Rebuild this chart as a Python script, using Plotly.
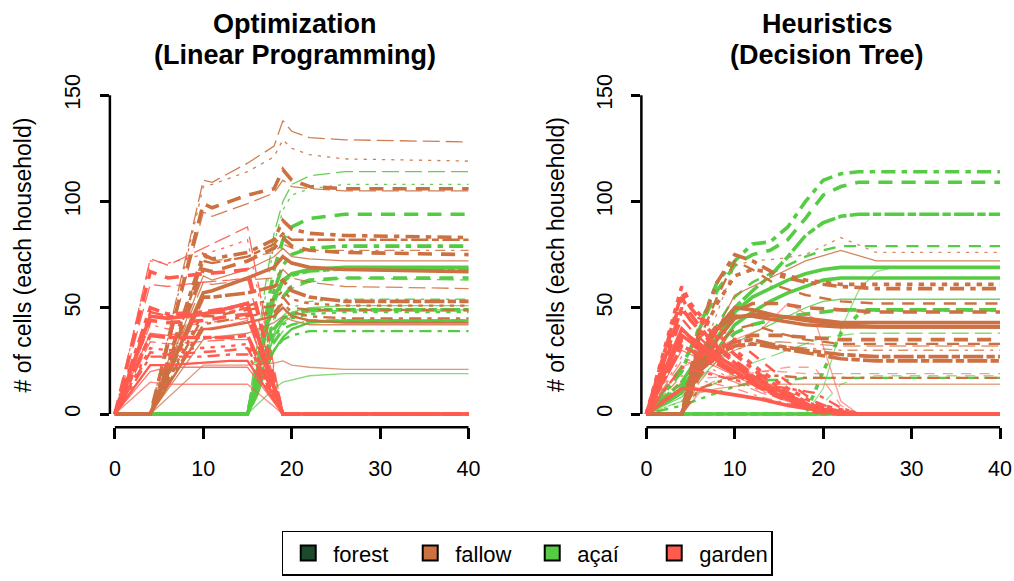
import plotly.graph_objects as go

# ---------------- data ----------------
# Optimization (Linear Programming) panel: time grids per land use
OPT_T_GARDEN = [0, 4, 6, 10, 13, 15, 19, 40]
OPT_T_FALLOW = [0, 4, 10, 11, 15, 18, 19, 20, 22, 26, 40]
OPT_T_ACAI = [0, 15, 16, 17, 18, 19, 20, 22, 26, 40]

OPT_GARDEN = [
    [0, 73, 70, 78, 84, 88, 0, 0],
    [0, 72, 71, 75, 79, 82, 0, 0],
    [0, 67, 64, 66, 67, 68, 0, 0],
    [0, 61, 60, 62, 63, 64, 0, 0],
    [0, 50, 47, 48, 50, 52, 0, 0],
    [0, 48, 46, 47, 48, 50, 0, 0],
    [0, 46, 45, 47, 50, 52, 0, 0],
    [0, 44, 43, 44, 46, 47, 0, 0],
    [0, 42, 40, 43, 44, 45, 0, 0],
    [0, 38, 37, 40, 42, 44, 0, 0],
    [0, 37, 36, 36, 36, 37, 0, 0],
    [0, 34, 33, 34, 35, 35, 0, 0],
    [0, 31, 30, 31, 32, 33, 0, 0],
    [0, 29, 28, 29, 30, 31, 0, 0],
    [0, 27, 27, 27, 28, 28, 0, 0],
    [0, 23, 23, 24, 25, 25, 0, 0],
    [0, 20, 22, 22, 22, 22, 0, 0],
    [0, 15, 14, 14, 14, 14, 0, 0],
]
OPT_FALLOW = [
    [0, 0, 110, 109, 118, 126, 138, 133, 130, 129, 128],
    [0, 0, 107, 108, 114, 121, 129, 125, 122, 120, 119],
    [0, 0, 99, 97, 103, 106, 115, 110, 107, 106, 106],
    [0, 0, 95, 93, 99, 104, 110, 107, 106, 105, 105],
    [0, 0, 75, 73, 76, 82, 91, 87, 85, 84, 83],
    [0, 0, 72, 71, 74, 80, 85, 82, 82, 82, 82],
    [0, 0, 57, 58, 64, 69, 74, 71, 69, 68, 67],
    [0, 0, 68, 67, 72, 78, 83, 79, 77, 76, 75],
    [0, 0, 74, 72, 74, 76, 80, 78, 77, 77, 77],
    [0, 0, 65, 63, 68, 74, 78, 74, 73, 72, 72],
    [0, 0, 55, 55, 57, 60, 63, 58, 55, 53, 53],
    [0, 0, 62, 61, 63, 64, 68, 64, 62, 60, 59],
    [0, 0, 48, 48, 51, 54, 58, 54, 52, 51, 51],
    [0, 0, 46, 46, 49, 51, 55, 50, 49, 49, 49],
    [0, 0, 42, 43, 46, 48, 52, 48, 46, 45, 45],
    [0, 0, 40, 40, 43, 46, 50, 46, 44, 43, 43],
    [0, 0, 35, 36, 38, 43, 46, 44, 42, 42, 42],
    [0, 0, 23, 23, 23, 24, 25, 23, 22, 21, 21],
]
OPT_ACAI = [
    [0, 0, 30, 60, 85, 100, 108, 112, 114, 114],
    [0, 0, 25, 55, 80, 96, 103, 106, 108, 108],
    [0, 0, 20, 45, 68, 82, 88, 92, 94, 94],
    [0, 0, 12, 30, 45, 55, 59, 62, 64, 63],
    [0, 0, 18, 40, 58, 70, 75, 78, 79, 79],
    [0, 0, 16, 36, 52, 62, 65, 67, 68, 68],
    [0, 0, 16, 38, 55, 63, 66, 68, 69, 69],
    [0, 0, 12, 30, 45, 55, 60, 63, 64, 64],
    [0, 0, 10, 26, 38, 46, 50, 53, 54, 54],
    [0, 0, 10, 25, 37, 43, 46, 48, 49, 49],
    [0, 0, 12, 28, 40, 45, 47, 49, 49, 49],
    [0, 0, 9, 22, 33, 39, 42, 44, 44, 44],
    [0, 0, 10, 24, 36, 42, 45, 47, 48, 48],
    [0, 0, 9, 22, 34, 40, 42, 44, 44, 44],
    [0, 0, 8, 20, 30, 35, 37, 39, 39, 39],
    [0, 0, 8, 20, 30, 36, 40, 43, 44, 44],
    [0, 0, 10, 24, 36, 44, 48, 50, 51, 51],
    [0, 0, 4, 8, 12, 15, 16, 18, 19, 19],
]
OPT_LTY = ["longdash", "dotted", "dashed", "longdash", "dotdash", "twodash",
           "solid", "dashed", "dotdash", "solid", "twodash", "longdash",
           "dotted", "dashed", "dotdash", "solid", "solid", "solid"]
OPT_LWD = [1, 1, 3, 1, 3, 2, 3, 3, 1, 1, 3, 1, 2, 2, 2, 2, 1, 1]
OPT_ALPHA = [0.9, 0.9, 1, 0.9, 1, 1, 1, 1, 0.85, 0.85, 1, 0.85, 1, 1, 1, 1, 0.8, 0.7]

# Heuristics (Decision Tree) panel
HEU_T_GARDEN = [0, 4, 5, 7, 10, 13, 16, 19, 22, 24, 40]
HEU_T_FALLOW = [0, 4, 6, 8, 10, 12, 15, 18, 22, 26, 40]
HEU_T_ACAI = [0, 4, 8, 10, 12, 14, 16, 18, 20, 22, 24, 26, 28, 40]

HEU_GARDEN = [
    [0, 57, 50, 40, 28, 18, 10, 4, 1, 0, 0],
    [0, 55, 47, 36, 25, 16, 9, 3, 0, 0, 0],
    [0, 50, 44, 35, 24, 15, 8, 2, 0, 0, 0],
    [0, 45, 40, 32, 22, 14, 8, 3, 0, 0, 0],
    [0, 40, 36, 30, 22, 15, 9, 3, 1, 0, 0],
    [0, 37, 34, 28, 20, 13, 7, 2, 0, 0, 0],
    [0, 30, 28, 24, 18, 12, 7, 2, 0, 0, 0],
    [0, 35, 33, 28, 20, 12, 6, 1, 0, 0, 0],
    [0, 25, 24, 20, 15, 10, 6, 2, 0, 0, 0],
    [0, 27, 25, 22, 16, 11, 6, 2, 1, 0, 0],
    [0, 22, 24, 30, 35, 40, 52, 45, 6, 0, 0],
    [0, 15, 16, 17, 18, 20, 22, 22, 4, 0, 0],
    [0, 60, 52, 42, 30, 20, 12, 5, 2, 0, 0],
    [0, 22, 21, 19, 16, 14, 12, 10, 3, 0, 0],
    [0, 32, 30, 26, 19, 12, 7, 2, 0, 0, 0],
    [0, 18, 17, 15, 12, 8, 5, 2, 0, 0, 0],
    [0, 48, 46, 44, 35, 25, 15, 6, 1, 0, 0],
    [0, 12, 12, 11, 9, 7, 4, 2, 0, 0, 0],
]
HEU_FALLOW = [
    [0, 0, 40, 62, 75, 72, 65, 62, 60, 59, 59],
    [0, 0, 30, 42, 48, 52, 52, 50, 49, 48, 48],
    [0, 0, 20, 28, 32, 33, 31, 29, 26, 25, 25],
    [0, 0, 35, 55, 72, 68, 60, 56, 53, 52, 52],
    [0, 0, 25, 40, 50, 49, 46, 44, 42, 41, 41],
    [0, 0, 22, 35, 45, 47, 46, 45, 43, 43, 43],
    [0, 0, 20, 40, 56, 60, 66, 72, 77, 72, 72],
    [0, 0, 18, 28, 35, 37, 37, 36, 35, 35, 35],
    [0, 0, 15, 25, 30, 33, 34, 33, 32, 32, 32],
    [0, 0, 25, 48, 70, 72, 73, 75, 83, 76, 76],
    [0, 0, 10, 12, 13, 14, 14, 14, 14, 14, 14],
    [0, 0, 12, 16, 18, 20, 20, 19, 19, 19, 19],
    [0, 0, 35, 52, 65, 68, 66, 63, 61, 61, 61],
    [0, 0, 12, 15, 17, 18, 18, 17, 17, 17, 17],
    [0, 0, 22, 30, 34, 35, 32, 30, 28, 27, 27],
    [0, 0, 20, 26, 30, 33, 32, 31, 30, 30, 30],
    [0, 0, 24, 33, 40, 42, 38, 35, 33, 33, 33],
    [0, 0, 28, 40, 46, 46, 44, 42, 41, 41, 41],
]
HEU_ACAI = [
    [0, 20, 62, 72, 80, 81, 88, 100, 110, 113, 114, 114, 114, 114],
    [0, 22, 58, 70, 75, 77, 82, 92, 103, 107, 109, 109, 109, 109],
    [0, 15, 40, 50, 58, 65, 74, 84, 90, 93, 94, 94, 94, 94],
    [0, 14, 42, 55, 62, 66, 70, 74, 77, 79, 79, 79, 79, 79],
    [0, 12, 36, 48, 55, 59, 63, 66, 68, 69, 69, 69, 69, 69],
    [0, 10, 30, 42, 48, 53, 57, 60, 63, 64, 64, 64, 64, 64],
    [0, 8, 25, 33, 38, 42, 46, 50, 53, 54, 54, 54, 54, 54],
    [0, 10, 30, 38, 42, 44, 46, 47, 48, 49, 49, 49, 49, 49],
    [0, 6, 15, 20, 24, 27, 30, 33, 36, 37, 38, 38, 38, 38],
    [0, 6, 32, 46, 55, 60, 63, 66, 68, 69, 69, 69, 69, 69],
    [0, 0, 0, 0, 0, 0, 0, 0, 12, 40, 58, 67, 69, 69],
    [0, 0, 0, 0, 0, 0, 0, 0, 5, 14, 17, 18, 18, 18],
    [0, 0, 0, 0, 0, 0, 0, 0, 20, 38, 47, 49, 49, 49],
    [0, 4, 10, 13, 15, 16, 16, 17, 17, 17, 17, 17, 17, 17],
    [0, 0, 0, 0, 0, 0, 0, 0, 0, 0, 0, 0, 0, 0],
    [0, 0, 0, 0, 0, 0, 0, 0, 0, 0, 0, 0, 0, 0],
    [0, 0, 0, 0, 0, 0, 0, 0, 0, 0, 0, 0, 0, 0],
    [0, 0, 0, 0, 0, 0, 0, 0, 0, 0, 0, 0, 0, 0],
]
HEU_LTY = ["dotdash", "dashed", "twodash", "dashed", "solid", "solid",
           "solid", "dashed", "longdash", "dotted", "solid", "dashed",
           "dotted", "dotdash", "twodash", "dotdash", "dashed", "solid"]
HEU_LWD = [3, 3, 3, 2, 3, 3, 1, 3, 1, 1, 1, 1, 3, 2, 3, 1, 2, 3]
HEU_ALPHA = [1, 1, 1, 1, 1, 1, 0.85, 1, 0.7, 0.8, 0.6, 0.6, 1, 1, 1, 0.75, 1, 1]

LANDUSE = ["forest", "fallow", "açaí", "garden"]
COLORS = {"forest": "#1B4B2C", "fallow": "#CD7042", "açaí": "#55CC44", "garden": "#FF5B4F"}
X_TICKS = [0, 10, 20, 30, 40]
Y_TICKS = [0, 50, 100, 150]
TITLES = [("Optimization", "(Linear Programming)"), ("Heuristics", "(Decision Tree)")]
Y_LABEL = "# of cells (each household)"

# ---------------- styling helpers ----------------
FONT = "Liberation Sans, Arial, Helvetica, sans-serif"
W, H = 1014, 581
WIDTH_PX = {1: 1.3, 2: 2.4, 3: 3.6}
DASH_UNIT = {1: 2.3, 2: 2.6, 3: 2.9}
DASH_PATTERN = {"dashed": [4, 4], "dotted": [1, 3], "dotdash": [1, 3, 4, 3],
                "longdash": [7, 3], "twodash": [2, 2, 6, 2]}


def dash_string(lty, lwd):
    if lty == "solid":
        return "solid"
    w = WIDTH_PX[lwd]
    u = DASH_UNIT[lwd]
    parts = []
    for i, n in enumerate(DASH_PATTERN[lty]):
        if i % 2 == 0:
            parts.append(n * u + w * 0.7)
        else:
            parts.append(max(n * u - w * 0.7, 1.2))
    return ",".join(f"{p:.1f}px" for p in parts)


fig = go.Figure()

panels = [
    dict(xa="x", ya="y",
         series=[("açaí", OPT_T_ACAI, OPT_ACAI), ("fallow", OPT_T_FALLOW, OPT_FALLOW),
                 ("garden", OPT_T_GARDEN, OPT_GARDEN)],
         lty=OPT_LTY, lwd=OPT_LWD, alpha=OPT_ALPHA),
    dict(xa="x2", ya="y2",
         series=[("açaí", HEU_T_ACAI, HEU_ACAI), ("fallow", HEU_T_FALLOW, HEU_FALLOW),
                 ("garden", HEU_T_GARDEN, HEU_GARDEN)],
         lty=HEU_LTY, lwd=HEU_LWD, alpha=HEU_ALPHA),
]

for p in panels:
    for name, tgrid, rows in p["series"]:
        for i, vals in enumerate(rows):
            fig.add_trace(go.Scatter(
                x=tgrid, y=vals, mode="lines", xaxis=p["xa"], yaxis=p["ya"],
                showlegend=False, hoverinfo="skip", opacity=p["alpha"][i],
                line=dict(color=COLORS[name], width=WIDTH_PX[p["lwd"][i]],
                          dash=dash_string(p["lty"][i], p["lwd"][i]))))

# legend entries
for name in LANDUSE:
    fig.add_trace(go.Scatter(
        x=[None], y=[None], mode="markers", name=name, xaxis="x", yaxis="y",
        marker=dict(symbol="square", size=15, color=COLORS[name],
                    line=dict(color="black", width=2))))

# ---------------- layout ----------------
PANEL_LEFT_PX = [109, 641]
PANEL_W_PX = 373
TOP_PX, BOTTOM_PX = 75, 425
X_RANGE = [-0.565, 41.58]
Y_RANGE = [-6.17, 156.2]

axis_common = dict(showgrid=False, zeroline=False, showline=False, ticks="outside",
                   tickwidth=2.5, tickcolor="black",
                   tickfont=dict(family=FONT, size=21.5, color="black"))

layout = dict(width=W, height=H, margin=dict(l=0, r=0, t=0, b=0),
              plot_bgcolor="white", paper_bgcolor="white", showlegend=True)

shapes = []
annotations = []
for k, (xa, ya) in enumerate([("x", "y"), ("x2", "y2")]):
    xkey = "xaxis" if k == 0 else "xaxis2"
    ykey = "yaxis" if k == 0 else "yaxis2"
    left = PANEL_LEFT_PX[k]
    layout[xkey] = dict(axis_common, domain=[left / W, (left + PANEL_W_PX) / W],
                        range=X_RANGE, tickvals=X_TICKS, ticklen=11, anchor=ya,
                        ticklabelstandoff=11)
    layout[ykey] = dict(axis_common, domain=[1 - BOTTOM_PX / H, 1 - TOP_PX / H],
                        range=Y_RANGE, tickvals=Y_TICKS, ticklen=9, anchor=xa,
                        tickangle=-90, ticklabelstandoff=11)
    shapes.append(dict(type="line", xref=xa, yref=f"{ya} domain", x0=X_TICKS[0], x1=X_TICKS[-1],
                       y0=0, y1=0, line=dict(color="black", width=2.5)))
    shapes.append(dict(type="line", xref=f"{xa} domain", yref=ya, x0=0, x1=0,
                       y0=Y_TICKS[0], y1=Y_TICKS[-1], line=dict(color="black", width=2.5)))

TITLE_X_PX = [294, 827]
YLAB_X_PX = [22, 555]
for k in range(2):
    annotations.append(dict(text=f"<b>{TITLES[k][0]}</b>", x=TITLE_X_PX[k] / W, y=1 - 16 / H,
                            xref="paper", yref="paper", showarrow=False,
                            xanchor="center", yanchor="middle",
                            font=dict(family=FONT, size=27, color="black")))
    annotations.append(dict(text=f"<b>{TITLES[k][1]}</b>", x=TITLE_X_PX[k] / W, y=1 - 48 / H,
                            xref="paper", yref="paper", showarrow=False,
                            xanchor="center", yanchor="middle",
                            font=dict(family=FONT, size=27, color="black")))
    annotations.append(dict(text=Y_LABEL, x=YLAB_X_PX[k] / W, y=1 - 250 / H,
                            xref="paper", yref="paper", showarrow=False, textangle=-90,
                            xanchor="center", yanchor="middle",
                            font=dict(family=FONT, size=23, color="black")))

layout["shapes"] = shapes
layout["annotations"] = annotations
layout["legend"] = dict(orientation="h", x=281 / W, y=1 - 530 / H, xanchor="left", yanchor="top",
                        bordercolor="black", borderwidth=1.5, bgcolor="white",
                        font=dict(family=FONT, size=22, color="black"),
                        entrywidth=67, entrywidthmode="pixels", itemwidth=40,
                        traceorder="normal")

fig.update_layout(**layout)
fig.write_html("out.html", config={"displayModeBar": False})
